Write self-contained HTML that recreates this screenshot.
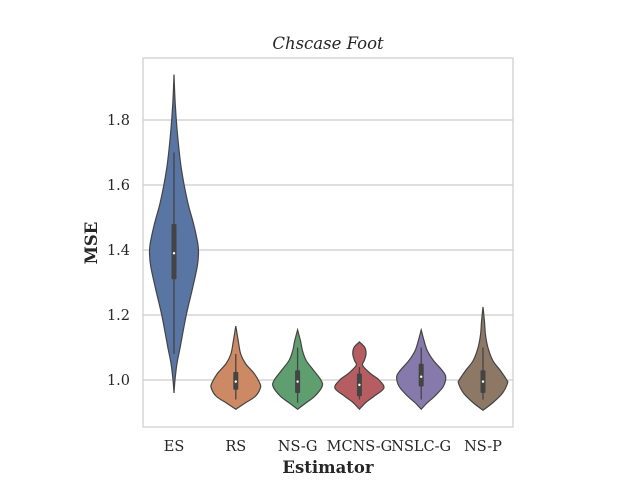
<!DOCTYPE html>
<html><head><meta charset="utf-8"><style>
body{margin:0;background:#fff}
svg text{font-family:"DejaVu Serif","Liberation Serif",serif;fill:#262626}
</style></head><body>
<svg id="chart" width="640" height="480" viewBox="0 0 640 480">
<rect x="0" y="0" width="640" height="480" fill="#fff"/>
<g id="grid"></g>
<g id="violins"></g>
<rect x="143" y="58" width="370" height="369" fill="none" stroke="#cccccc" stroke-width="1.2"/>
<g id="ticks"></g>
<text x="328" y="49" text-anchor="middle" font-size="16.5" font-style="italic">Chscase Foot</text>
<text x="328" y="473" text-anchor="middle" font-size="16.5" font-weight="bold">Estimator</text>
<text transform="translate(97,243) rotate(-90)" text-anchor="middle" font-size="16.5" font-weight="bold">MSE</text>
</svg>
<script>
const categories=["ES","RS","NS-G","MCNS-G","NSLC-G","NS-P"];
const colors=["#5875a4","#cc8963","#5f9e6e","#b55d60","#857aab","#8d7866"];
const yTicks=[1.0,1.2,1.4,1.6,1.8];
const profileVals=[
[1.94,1.85,1.75,1.65,1.55,1.48,1.42,1.39,1.35,1.28,1.2,1.1,1.05,1.0,0.96],
[1.166,1.12,1.08,1.05,1.02,0.99,0.975,0.95,0.93,0.91],
[1.154,1.12,1.09,1.06,1.03,1.0,0.98,0.95,0.93,0.91],
[1.117,1.1,1.08,1.06,1.045,1.02,1.0,0.975,0.95,0.93,0.91],
[1.154,1.12,1.09,1.06,1.03,1.01,0.98,0.95,0.93,0.91],
[1.225,1.18,1.14,1.1,1.06,1.03,1.0,0.99,0.96,0.93,0.907]];
const profileDens=[
[0,0.05,0.15,0.3,0.55,0.8,0.97,1,0.95,0.75,0.5,0.25,0.12,0.04,0],
[0,0.1,0.2,0.4,0.75,0.98,1,0.8,0.4,0],
[0,0.12,0.2,0.35,0.65,0.95,1,0.7,0.35,0],
[0,0.22,0.27,0.2,0.13,0.45,0.8,1,0.6,0.25,0],
[0,0.12,0.25,0.5,0.85,1,0.9,0.55,0.25,0],
[0,0.06,0.1,0.2,0.4,0.7,0.97,1,0.8,0.4,0]];
const q1=[1.31,0.97,0.96,0.95,0.98,0.96];
const q3=[1.48,1.025,1.03,1.02,1.05,1.03];
const medians=[1.39,0.995,0.995,0.985,1.01,0.995];
const whLo=[1.08,0.94,0.93,0.94,0.94,0.94];
const whHi=[1.70,1.08,1.10,1.04,1.10,1.10];

const NS="http://www.w3.org/2000/svg";
const y=v=>380-(v-1)*325;
const x=i=>174+i*61.8;
const maxHalf=24.5;
function mk(t,a,p){const e=document.createElementNS(NS,t);for(const k in a)e.setAttribute(k,a[k]);p.appendChild(e);return e;}
const grid=document.getElementById('grid'),ticks=document.getElementById('ticks'),vg=document.getElementById('violins');
yTicks.forEach(t=>{
 const l=mk('line',{x1:143,x2:513,y1:y(t),y2:y(t),stroke:'#cccccc','stroke-width':1.2},grid);
 
 
 const tx=mk('text',{x:130,y:y(t)+5,'text-anchor':'end','font-size':14.5},ticks);
 tx.textContent=t.toFixed(1);
 
 
});
function smooth(pts){let d='M'+pts[0][0]+','+pts[0][1];
 for(let i=0;i<pts.length-1;i++){const p0=pts[Math.max(i-1,0)],p1=pts[i],p2=pts[i+1],p3=pts[Math.min(i+2,pts.length-1)];
 const c1=[p1[0]+(p2[0]-p0[0])/6,p1[1]+(p2[1]-p0[1])/6],c2=[p2[0]-(p3[0]-p1[0])/6,p2[1]-(p3[1]-p1[1])/6];
 d+=' C'+c1[0]+','+c1[1]+' '+c2[0]+','+c2[1]+' '+p2[0]+','+p2[1];}
 return d;}
categories.forEach((c,i)=>{
 const cx=x(i),vals=profileVals[i],dens=profileDens[i];
 const right=vals.map((v,k)=>[cx+dens[k]*maxHalf,y(v)]);
 const left=vals.map((v,k)=>[cx-dens[k]*maxHalf,y(v)]).reverse();
 const d=smooth(right)+' L'+left[0][0]+','+left[0][1]+smooth(left).replace(/^M[^C]*/,' ')+' Z';
 const p=mk('path',{d:d,fill:colors[i],stroke:'#444','stroke-width':1.2},vg);
 
 
 const w=mk('line',{x1:cx,x2:cx,y1:y(whHi[i]),y2:y(whLo[i]),stroke:'#444','stroke-width':1.3},vg);
 
 
 const b=mk('rect',{x:cx-2.5,y:y(q3[i]),width:5,height:y(q1[i])-y(q3[i]),fill:'#444',rx:1},vg);
 
 
 const m=mk('circle',{cx:cx,cy:y(medians[i]),r:1.2,fill:'#fff'},vg);
 
 
 const tx=mk('text',{x:cx,y:451,'text-anchor':'middle','font-size':14.5},ticks);
 tx.textContent=c;
 
 
});
</script>
</body></html>
